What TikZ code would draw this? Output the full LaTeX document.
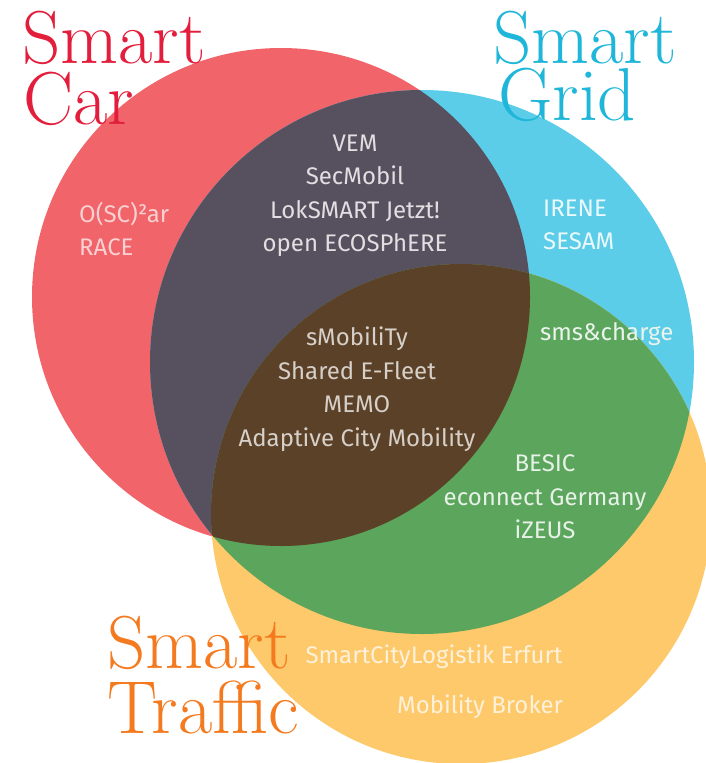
\documentclass[tikz,border=0pt]{standalone}
\usepackage{fontspec}
\newfontfamily\projfont{Fira Sans}
\definecolor{carred}{HTML}{F0646A}
\definecolor{gridblue}{HTML}{5CCDE8}
\definecolor{trafficyellow}{HTML}{FDC96A}
\definecolor{cargrid}{HTML}{57505E}
\definecolor{gridtraffic}{HTML}{5CA55D}
\definecolor{allthree}{HTML}{5B4128}
\definecolor{cartitle}{HTML}{E31E3C}
\definecolor{gridtitle}{HTML}{1FB6D9}
\definecolor{traffictitle}{HTML}{F47A1F}

\begin{document}
\begin{tikzpicture}[x=1pt, y=-1pt,
  title/.style={font=\fontsize{75}{75}\selectfont, anchor=base west, inner sep=0pt,
                text height=50pt, text depth=0pt},
  project/.style={font=\projfont\fontsize{24}{33.5}\selectfont, align=center, inner sep=0pt},
  leftproject/.style={project, align=left, anchor=west}
]
  \useasboundingbox (0,0) rectangle (706,763);
  \clip (0,0) rectangle (706,763);

  % circle centres, radii in pt
  \coordinate (car) at (281,297);
  \coordinate (grid) at (422,362);
  \coordinate (traffic) at (461,514);
  \def\rcar{249pt}
  \def\rgrid{272pt}
  \def\rtraffic{250pt}

  \fill[carred] (car) circle[radius=\rcar];
  \fill[gridblue] (grid) circle[radius=\rgrid];
  \fill[trafficyellow] (traffic) circle[radius=\rtraffic];

  % overlaps
  \begin{scope}
    \clip (car) circle[radius=\rcar];
    \fill[cargrid] (grid) circle[radius=\rgrid];
  \end{scope}
  \begin{scope}
    \clip (grid) circle[radius=\rgrid];
    \fill[gridtraffic] (traffic) circle[radius=\rtraffic];
  \end{scope}
  \begin{scope}
    \clip (car) circle[radius=\rcar];
    \clip (grid) circle[radius=\rgrid];
    \fill[allthree] (traffic) circle[radius=\rtraffic];
  \end{scope}

  % projects
  \node[leftproject, text=carred!30!white] (caronly) at (79,229) {O(SC)²ar\\RACE};
  \node[leftproject, text=gridblue!12!white] (gridonly) at (543,225) {IRENE\\SESAM};
  \node[project, text=cargrid!18!white] (cargridproj) at (355,196)
    {VEM\\SecMobil\\LokSMART Jetzt!\\open ECOSPhERE};
  \node[project, text=allthree!25!white] (allproj) at (357,389)
    {sMobiliTy\\Shared E-Fleet\\MEMO\\Adaptive City Mobility};
  \node[leftproject, text=gridtraffic!12!white] (smscharge) at (540,334) {sms\&charge};
  \node[project, text=gridtraffic!15!white] (gridtrafficproj) at (545,497)
    {BESIC\\econnect Germany\\iZEUS};
  \node[project, text=trafficyellow!25!white] (logistik) at (434,657) {SmartCityLogistik Erfurt};
  \node[project, text=trafficyellow!25!white] (broker) at (480,707) {Mobility Broker};

  % titles
  \node[title, text=cartitle] (carsmart) at (22,63) {Smart};
  \node[title, text=cartitle] (carcar) at (23,124) {Car};
  \node[title, text=gridtitle] (gridsmart) at (493,63) {Smart};
  \node[title, text=gridtitle] (gridgrid) at (498,120) {Grid};
  \node[title, text=traffictitle] (trafficsmart) at (107,668) {Smart};
  \node[title, text=traffictitle] (traffictraffic) at (107,733) {Traffic};
\end{tikzpicture}
\end{document}
